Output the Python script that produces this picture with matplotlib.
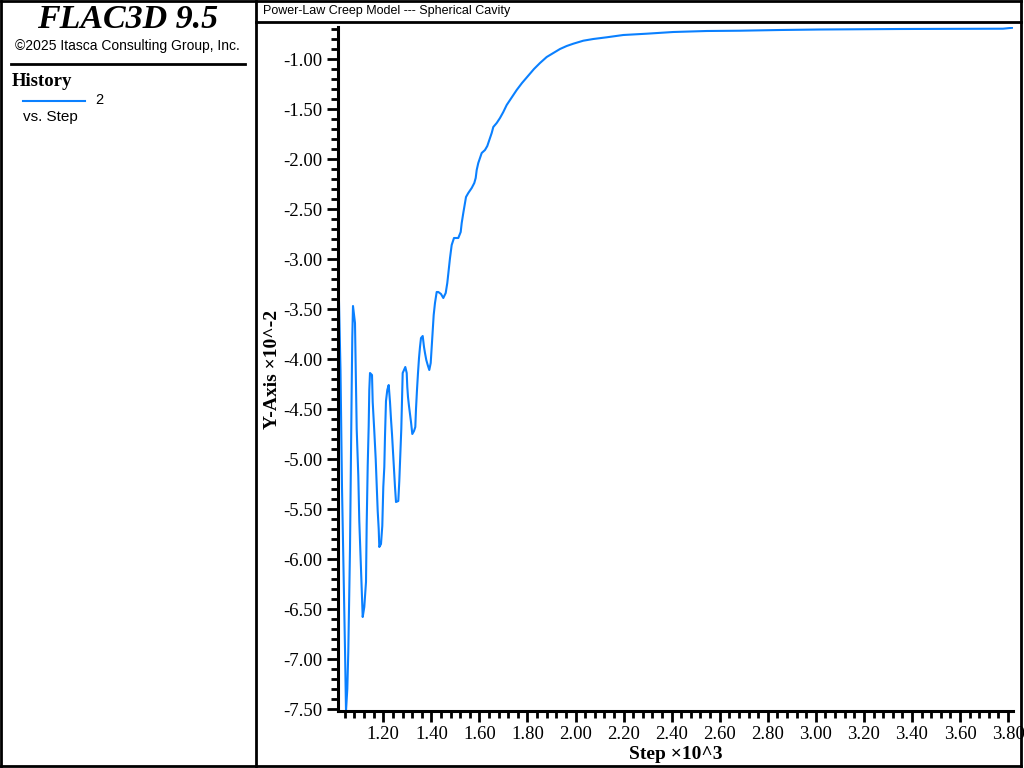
import matplotlib
matplotlib.use("Agg")
import matplotlib.pyplot as plt
from matplotlib.lines import Line2D
from matplotlib.ticker import MultipleLocator, FormatStrFormatter

# ---- data (Step x10^3, Y-Axis x10^-2) ----
step = [1.012, 1.0219, 1.0281, 1.0344, 1.0406, 1.0448, 1.0502, 1.0543, 1.0614, 1.0656,
        1.0685, 1.0710, 1.0739, 1.0822, 1.0893, 1.0960, 1.1001, 1.1060, 1.1101, 1.1143,
        1.1209, 1.1280, 1.1309, 1.1351, 1.1392, 1.1417, 1.1447, 1.1530, 1.1559, 1.1625,
        1.1684, 1.1725, 1.1767, 1.1809, 1.1834, 1.1904, 1.1958, 1.2000, 1.2042, 1.2071,
        1.2112, 1.2166, 1.2225, 1.2279, 1.2320, 1.2362, 1.2404, 1.2445, 1.2487, 1.2529,
        1.2624, 1.2666, 1.2707, 1.2749, 1.2778, 1.2807, 1.2861, 1.2916, 1.2974, 1.2999,
        1.3028, 1.3069, 1.3111, 1.3153, 1.3207, 1.3278, 1.3332, 1.3361, 1.3402, 1.3444,
        1.3486, 1.3527, 1.3569, 1.3640, 1.3694, 1.3735, 1.3789, 1.3848, 1.3914, 1.3973,
        1.4014, 1.4056, 1.4097, 1.4151, 1.4222, 1.4289, 1.4401, 1.4497, 1.4597, 1.4663,
        1.4722, 1.4776, 1.4846, 1.4942, 1.5121, 1.5221, 1.5263, 1.5329, 1.5400, 1.5442,
        1.5537, 1.5679, 1.5787, 1.5845, 1.5887, 1.5953, 1.6024, 1.6095, 1.6232, 1.6328,
        1.6411, 1.6511, 1.6578, 1.6719, 1.6856, 1.6994, 1.7135, 1.7273, 1.7410, 1.7551,
        1.7772, 1.8022, 1.8271, 1.8521, 1.8800, 1.9075, 1.9353, 1.9632, 1.9907, 2.0323,
        2.0739, 2.1297, 2.1988, 2.2961, 2.4068, 2.5458, 2.6844, 2.8509, 3.0173, 3.3502,
        3.7789, 3.8205]
value = [-3.03, -4.11, -5.28, -6.10, -6.90, -7.52, -7.30, -6.93, -5.90, -4.90,
         -4.28, -3.78, -3.47, -3.64, -4.70, -5.17, -5.62, -6.02, -6.28, -6.58,
         -6.48, -6.23, -5.65, -5.07, -4.67, -4.31, -4.14, -4.16, -4.43, -4.72,
         -5.00, -5.27, -5.52, -5.70, -5.88, -5.85, -5.67, -5.28, -5.08, -4.77,
         -4.42, -4.31, -4.26, -4.43, -4.60, -4.75, -4.92, -5.10, -5.28, -5.43,
         -5.42, -5.22, -4.97, -4.70, -4.40, -4.14, -4.11, -4.08, -4.14, -4.28,
         -4.38, -4.47, -4.55, -4.63, -4.75, -4.72, -4.68, -4.50, -4.31, -4.14,
         -3.99, -3.88, -3.79, -3.77, -3.88, -3.94, -4.01, -4.06, -4.11, -4.04,
         -3.88, -3.71, -3.56, -3.44, -3.33, -3.33, -3.35, -3.39, -3.34, -3.24,
         -3.11, -2.99, -2.86, -2.79, -2.79, -2.73, -2.64, -2.54, -2.44, -2.38,
         -2.34, -2.29, -2.24, -2.19, -2.11, -2.04, -1.99, -1.94, -1.91, -1.87,
         -1.81, -1.74, -1.68, -1.64, -1.59, -1.53, -1.46, -1.41, -1.36, -1.31,
         -1.24, -1.17, -1.10, -1.04, -0.98, -0.94, -0.90, -0.87, -0.847, -0.817,
         -0.80, -0.783, -0.760, -0.747, -0.730, -0.720, -0.717, -0.710, -0.705, -0.700,
         -0.697, -0.687]

title_text = "Power-Law Creep Model --- Spherical Cavity"
x_label = "Step \u00d710^3"
y_label = "Y-Axis \u00d710^-2"
legend_label = "2"
line_color = "#0a80ff"

W, H = 1024, 768
fig = plt.figure(figsize=(W / 100, H / 100), dpi=100)

def fx(px):
    return px / W

def fy(py):
    return 1 - py / H

# ---- frame lines ----
lw_frame = 2.0
frame = [
    ((1, 1021), (1, 1)),
    ((1, 1021), (765.5, 765.5)),
    ((1, 1), (1, 765.5)),
    ((1021, 1021), (1, 765.5)),
    ((256, 256), (1, 765.5)),
    ((256, 1021), (21.5, 21.5)),
    ((11, 245), (63.5, 63.5)),
]
for (xs, ys) in frame:
    fig.add_artist(Line2D([fx(x) for x in xs], [fy(y) for y in ys],
                          color="black", lw=lw_frame, solid_capstyle="projecting"))

# ---- left panel text ----
fig.text(fx(128), fy(19), "FLAC3D 9.5", family="Liberation Serif", weight="bold",
         style="italic", fontsize=24.5, ha="center", va="center")
fig.text(fx(127), fy(46), "\u00a92025 Itasca Consulting Group, Inc.", family="Liberation Sans",
         fontsize=10, ha="center", va="center")
fig.text(fx(12), fy(82), "History", family="Liberation Serif", weight="bold",
         fontsize=13.5, ha="left", va="center")
fig.add_artist(Line2D([fx(23), fx(85)], [fy(101), fy(101)], color=line_color, lw=1.5))
fig.text(fx(95), fy(100), legend_label, family="Liberation Sans", fontsize=10.5,
         ha="left", va="center")
fig.text(fx(23), fy(117), "vs. Step", family="Liberation Sans", fontsize=11,
         ha="left", va="center")

# ---- plot title ----
fig.text(fx(263), fy(11), title_text, family="Liberation Sans", fontsize=9,
         ha="left", va="center")

# ---- main axes ----
ax = fig.add_axes([fx(338), fy(711), fx(1013) - fx(338), fy(27) - fy(711)])
ax.plot(step, value, color=line_color, lw=1.5)
ax.set_xlim(1.0115, 3.8205)
ax.set_ylim(-7.52, -0.68)

for s in ("top", "right"):
    ax.spines[s].set_visible(False)
for s in ("left", "bottom"):
    ax.spines[s].set_linewidth(2.2)

ax.xaxis.set_major_locator(MultipleLocator(0.2))
ax.xaxis.set_minor_locator(MultipleLocator(0.04))
ax.yaxis.set_major_locator(MultipleLocator(0.5))
ax.yaxis.set_minor_locator(MultipleLocator(0.1))
ax.xaxis.set_major_formatter(FormatStrFormatter("%.2f"))
ax.yaxis.set_major_formatter(FormatStrFormatter("%.2f"))
ax.tick_params(which="major", direction="out", length=8, width=2, pad=3,
               labelsize=13.5)
ax.tick_params(which="minor", direction="out", length=5, width=2)
for lab in ax.get_xticklabels() + ax.get_yticklabels():
    lab.set_family("Liberation Serif")
ax.tick_params(axis="y", pad=3)

ax.set_xlabel(x_label, family="Liberation Serif", weight="bold", fontsize=14, labelpad=2)
ax.set_ylabel(y_label, family="Liberation Serif", weight="bold", fontsize=14, labelpad=2)

fig.savefig("out.png", dpi=100, facecolor="white")
